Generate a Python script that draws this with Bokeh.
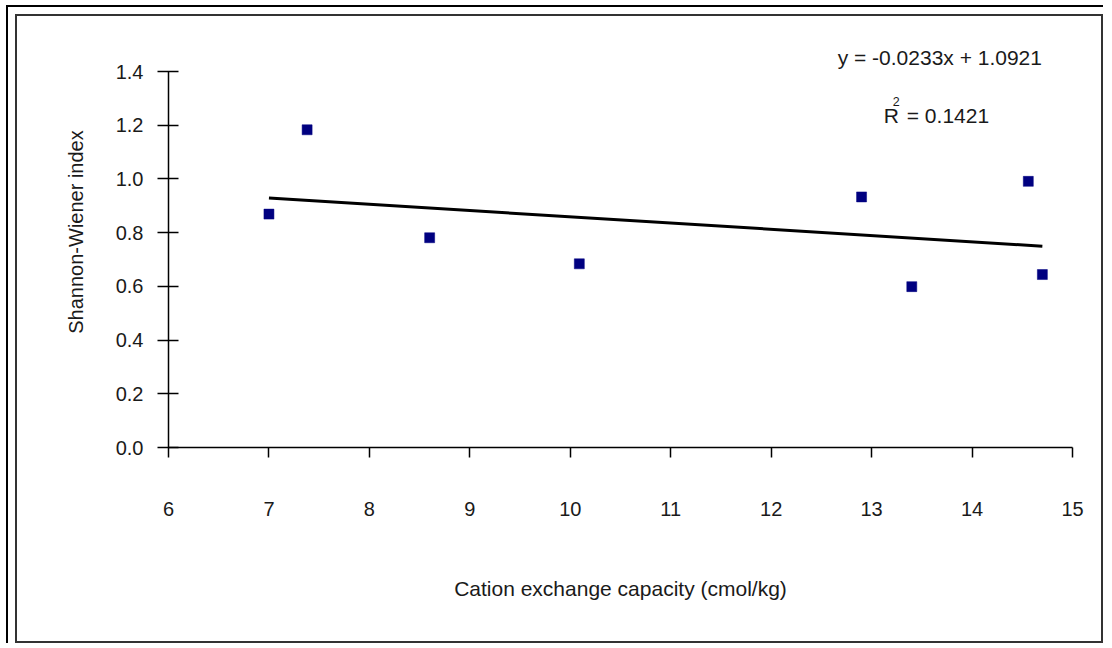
from bokeh.plotting import figure
from bokeh.layouts import column
from bokeh.models import (Range1d, FixedTicker, NumeralTickFormatter, Label,
                          ColumnDataSource)
from bokeh.embed import file_html
from bokeh.resources import INLINE

# ---- data ----
cec = [7.0, 7.38, 8.6, 10.09, 12.9, 13.4, 14.56, 14.7]
shannon = [0.869, 1.183, 0.781, 0.684, 0.933, 0.599, 0.991, 0.644]
slope = -0.0233
intercept = 1.0921
r2 = 0.1421
x_ticks = [6, 7, 8, 9, 10, 11, 12, 13, 14, 15]
y_ticks = [0.0, 0.2, 0.4, 0.6, 0.8, 1.0, 1.2, 1.4]

FONT = "Liberation Sans"
TXT = "#1a1a1a"

# layout (pixels)
FIG_W, FIG_H = 1084, 625
B_LEFT, B_RIGHT, B_BOTTOM = 151, 29, 194
AXIS_H = 376                      # pixel height of the 0..1.4 axis
frame_h = FIG_H - B_BOTTOM
y_top = 1.4 * frame_h / AXIS_H    # room above the axis for the equation

p = figure(width=FIG_W, height=FIG_H, output_backend="svg", toolbar_location=None,
           x_range=Range1d(6, 15), y_range=Range1d(0, y_top),
           min_border_left=B_LEFT, min_border_right=B_RIGHT,
           min_border_top=0, min_border_bottom=B_BOTTOM)
p.outline_line_color = None
p.xgrid.visible = False
p.ygrid.visible = False
p.background_fill_color = "white"
p.border_fill_color = "white"

# trend line from the displayed equation, across the data's x extent
xmin, xmax = min(cec), max(cec)
p.line([xmin, xmax], [slope * xmin + intercept, slope * xmax + intercept],
       line_color="black", line_width=3)

src = ColumnDataSource(dict(x=cec, y=shannon))
p.scatter("x", "y", source=src, marker="square", size=10,
          fill_color="#000080", line_color="#000080", line_width=0.5)

# axes
xa = p.xaxis[0]
xa.ticker = FixedTicker(ticks=x_ticks)
xa.axis_label = "Cation exchange capacity (cmol/kg)"
xa.major_tick_in = 0
xa.major_tick_out = 10
xa.minor_tick_line_color = None
xa.major_label_standoff = 44
xa.axis_label_standoff = 58

ya = p.yaxis[0]
ya.ticker = FixedTicker(ticks=y_ticks)
ya.bounds = (0, 1.4)
ya.formatter = NumeralTickFormatter(format="0.0")
ya.axis_label = "Shannon-Wiener index"
ya.major_tick_in = 10
ya.major_tick_out = 11
ya.minor_tick_line_color = None
ya.major_label_standoff = 14
ya.axis_label_standoff = 26

for ax in (xa, ya):
    ax.axis_line_width = 1.5
    ax.axis_line_color = "black"
    ax.major_tick_line_width = 1.5
    ax.major_tick_line_color = "black"
    ax.major_label_text_font = FONT
    ax.major_label_text_font_size = "20px"
    ax.major_label_text_color = TXT
    ax.axis_label_text_font = FONT
    ax.axis_label_text_font_style = "normal"
    ax.axis_label_text_color = TXT
xa.axis_label_text_font_size = "21px"
ya.axis_label_text_font_size = "20px"

# equation and R^2 annotations
p.add_layout(Label(x=12.662, y=1.452, text=f"y = {slope}x + {intercept}",
                   text_font=FONT, text_font_size="21px", text_color=TXT,
                   text_align="left", text_baseline="alphabetic"))
p.add_layout(Label(x=13.12, y=1.236, text="R",
                   text_font=FONT, text_font_size="21px", text_color=TXT,
                   text_align="left", text_baseline="alphabetic"))
p.add_layout(Label(x=13.21, y=1.29, text="2",
                   text_font=FONT, text_font_size="12.5px", text_color=TXT,
                   text_align="left", text_baseline="alphabetic"))
p.add_layout(Label(x=13.35, y=1.236, text=f"= {r2}",
                   text_font=FONT, text_font_size="21px", text_color=TXT,
                   text_align="left", text_baseline="alphabetic"))

inner = column(p, styles={"border": "2px solid #333333"})
outer = column(inner, styles={"border-left": "2.5px solid black",
                              "border-top": "2.5px solid black",
                              "padding": "7px 0 0 7px",
                              "margin-left": "6px", "margin-top": "5px"})

open("out.html", "w").write(file_html(outer, INLINE))
